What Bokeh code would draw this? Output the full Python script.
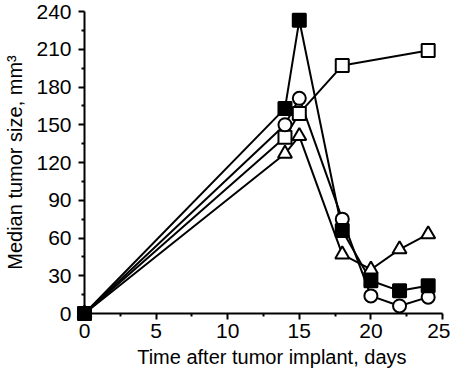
from bokeh.plotting import figure
from bokeh.models import FixedTicker, Range1d
from bokeh.embed import file_html
from bokeh.resources import INLINE

# ---- data ----
days = [0, 14, 15, 18, 20, 22, 24]
filled_square = [0, 163, 233, 66, 26, 18, 22]
open_circle = [0, 150, 171, 75, 14, 6, 13]
triangle = [0, 127, 141, 47, 35, 51, 63]
open_square_days = [0, 14, 15, 18, 24]
open_square = [0, 140, 159, 197, 209]

x_ticks = [0, 5, 10, 15, 20, 25]
x_minor = [2.5, 7.5, 12.5, 17.5, 22.5]
y_ticks = [0, 30, 60, 90, 120, 150, 180, 210, 240]
y_minor = [15, 45, 75, 105, 135, 165, 195, 225]

x_title = "\u00a0\u00a0\u00a0Time after tumor implant, days"
y_title = "Median tumor size, mm\u00b3"

FONT = "Liberation Sans"

p = figure(width=450, height=371, output_backend="svg", toolbar_location=None,
           x_range=Range1d(0, 25), y_range=Range1d(0, 240),
           min_border_left=84, min_border_right=8, min_border_top=11, min_border_bottom=58)
p.outline_line_color = None
p.xgrid.visible = False
p.ygrid.visible = False
p.background_fill_color = "white"

for ax, ticks, minor in ((p.xaxis, x_ticks, x_minor), (p.yaxis, y_ticks, y_minor)):
    ax.ticker = FixedTicker(ticks=ticks, minor_ticks=minor)
    ax.axis_line_width = 2
    ax.axis_line_color = "black"
    ax.major_tick_line_width = 2
    ax.minor_tick_line_width = 2
    ax.major_tick_out = 6
    ax.major_tick_in = 0
    ax.minor_tick_out = 3
    ax.minor_tick_in = 0
    ax.major_label_text_font = FONT
    ax.major_label_text_font_size = "21px"
    ax.major_label_text_color = "black"
    ax.axis_label_text_font = FONT
    ax.axis_label_text_font_size = "20px"
    ax.axis_label_text_font_style = "normal"
    ax.axis_label_text_color = "black"

p.xaxis.axis_label = x_title
p.yaxis.axis_label = y_title
p.xaxis.major_label_standoff = 4
p.yaxis.major_label_standoff = 7
p.xaxis.axis_label_standoff = 5
p.yaxis.axis_label_standoff = 7

LW = 2
for xs, ys in ((days, filled_square), (open_square_days, open_square), (days, triangle), (days, open_circle)):
    r = p.line(xs, ys, line_color="black", line_width=LW)
    r.level = "overlay"

scat = [
    p.scatter(days, triangle, marker="triangle", size=14, fill_color="white", line_color="black", line_width=LW),
    p.scatter(open_square_days, open_square, marker="square", size=13, fill_color="white", line_color="black", line_width=LW),
    p.scatter(days, open_circle, marker="circle", size=13, fill_color="white", line_color="black", line_width=LW),
    p.scatter(days, filled_square, marker="square", size=13, fill_color="black", line_color="black", line_width=LW),
]
for r in scat:
    r.level = "overlay"

open("out.html", "w").write(file_html(p, INLINE))
